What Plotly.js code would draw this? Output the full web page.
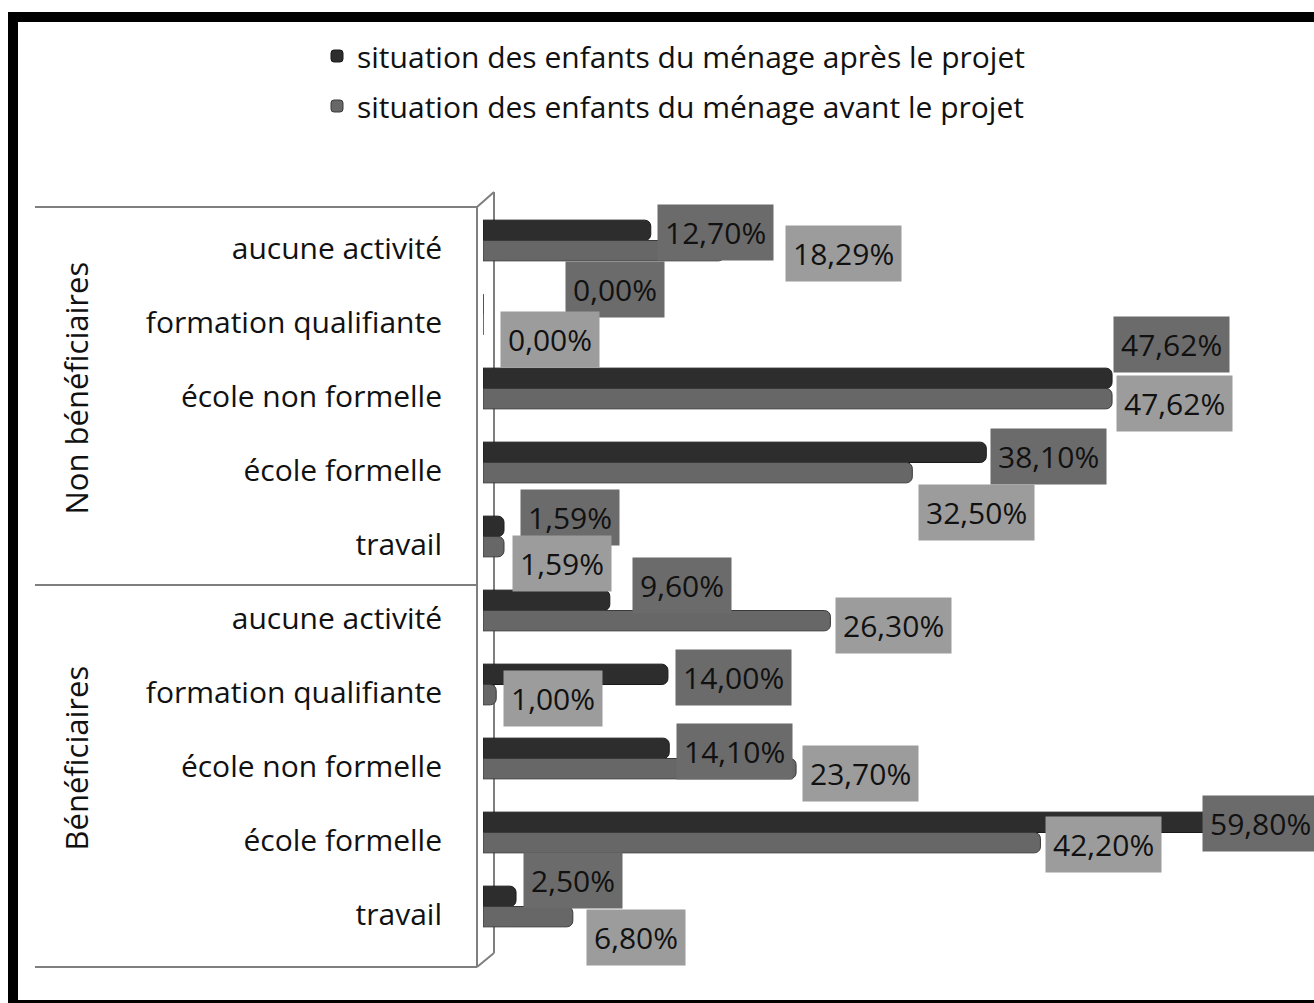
<!DOCTYPE html>
<html>
<head>
<meta charset="utf-8">
<script src="https://cdn.plot.ly/plotly-3.0.1.min.js"></script>
<style>
  html, body { margin: 0; padding: 0; background: #ffffff; overflow: hidden; }
  #chart { width: 1314px; height: 1003px; position: relative; }
  #frame { position: absolute; left: 8px; top: 12px; width: 1330px; height: 998px;
           border: 10px solid #000; box-sizing: border-box; pointer-events: none; }
</style>
</head>
<body>
<div id="chart"></div>
<div id="frame"></div>
<script>
// ---- data ----
const groups = ["Non bénéficiaires", "Bénéficiaires"];
const activities = ["aucune activité", "formation qualifiante", "école non formelle", "école formelle", "travail"];
const seriesNames = ["situation des enfants du ménage après le projet", "situation des enfants du ménage avant le projet"];
// values in %, one per (group, activity), in the order above
const apres = [12.70, 0.00, 47.62, 38.10, 1.59, 9.60, 14.00, 14.10, 59.80, 2.50];
const avant = [18.29, 0.00, 47.62, 32.50, 1.59, 26.30, 1.00, 23.70, 42.20, 6.80];

// ---- label nudges (pixels, style only) ----
const apresLabelDx = [6, 82, 1, 4, 16, 22, 7, 7, -71, 7];
const apresLabelDy = [-8, -25, -44, -6, -19, -25, -7, -7, -9, -26];
const avantLabelDx = [60, 17, 4, 6, 8, 5, 7, 6, 5, 13];
const avantLabelDy = [13, 25, 15, 50, 27, 15, 14, 15, 12, 31];

// ---- build categories ----
const ids = [], tickText = [];
groups.forEach((g, gi) => activities.forEach(a => { ids.push(g + "|" + a); tickText.push(a); }));

const fmt = v => v.toFixed(2).replace(".", ",") + "%";

// geometry helpers (layout)
const W = 1314, H = 1003;
const M = { l: 483, r: 0, t: 199, b: 42 };
const PW = W - M.l - M.r, PH = H - M.t - M.b;
const px = x => (x - M.l) / PW;
const py = y => (H - M.b - y) / PH;

const FONT = "'Open Sans', Lato, sans-serif";

const traces = [
  { type: "bar", orientation: "h", name: seriesNames[0], x: apres, y: ids,
    legendgroup: "a",
    marker: { color: "#2d2d2d", line: { color: "#1a1a1a", width: 1 }, cornerradius: 6 },
    hoverinfo: "skip" },
  { type: "bar", orientation: "h", name: seriesNames[1], x: avant, y: ids,
    legendgroup: "b",
    marker: { color: "#676767", line: { color: "#3a3a3a", width: 1 }, cornerradius: 6 },
    hoverinfo: "skip" }
];

const annotations = [];
ids.forEach((id, i) => {
  annotations.push({ x: apres[i], y: id, xref: "x", yref: "y", text: fmt(apres[i]),
    showarrow: false, xanchor: "left", yanchor: "middle",
    xshift: apresLabelDx[i], yshift: -apresLabelDy[i],
    bgcolor: "#6b6b6b", borderpad: 7, font: { family: FONT, size: 30, color: "#111" } });
  annotations.push({ x: avant[i], y: id, xref: "x", yref: "y", text: fmt(avant[i]),
    showarrow: false, xanchor: "left", yanchor: "middle",
    xshift: avantLabelDx[i], yshift: -avantLabelDy[i],
    bgcolor: "#9c9c9c", borderpad: 7, font: { family: FONT, size: 30, color: "#111" } });
});
groups.forEach((g, gi) => {
  annotations.push({ xref: "paper", x: px(75), y: ids[gi * 5 + 2], yref: "y",
    text: g, textangle: -90, showarrow: false, xanchor: "center", yanchor: "middle",
    font: { family: FONT, size: 31, color: "#111" } });
});

const lineStyle = { color: "#7f7f7f", width: 2 };
const seg = (x0, y0, x1, y1) => ({ type: "line", xref: "paper", yref: "paper",
  x0: px(x0), y0: py(y0), x1: px(x1), y1: py(y1), line: lineStyle, layer: "below" });
const shapes = [
  seg(35, 207, 477, 207),
  seg(35, 585, 477, 585),
  seg(35, 967, 477, 967),
  seg(477, 207, 477, 967),
  seg(477, 207, 494, 192),
  seg(494, 192, 494, 953),
  seg(477, 967, 494, 953)
];

const layout = {
  width: W, height: H,
  margin: M,
  paper_bgcolor: "#ffffff", plot_bgcolor: "rgba(0,0,0,0)",
  barmode: "group", bargap: 0.45, bargroupgap: 0,
  font: { family: FONT, color: "#111" },
  xaxis: { range: [0, PW / 13.21], showgrid: false, zeroline: false,
           showticklabels: false, showline: false, fixedrange: true },
  yaxis: { type: "category", categoryorder: "array", categoryarray: ids,
           autorange: "reversed", tickvals: ids, ticktext: tickText,
           showgrid: false, zeroline: false, showline: false, ticks: "",
           ticklabelstandoff: 40, ticklabelshift: -8,
           tickfont: { family: FONT, size: 30, color: "#111" } },
  showlegend: true,
  legend: { x: px(317), xanchor: "left", y: py(30), yanchor: "top",
            orientation: "v", traceorder: "grouped", tracegroupgap: 8,
            font: { family: FONT, size: 30, color: "#111" },
            bgcolor: "rgba(0,0,0,0)" },
  annotations: annotations,
  shapes: shapes
};

Plotly.newPlot("chart", traces, layout, { staticPlot: true, displayModeBar: false });
</script>
</body>
</html>
